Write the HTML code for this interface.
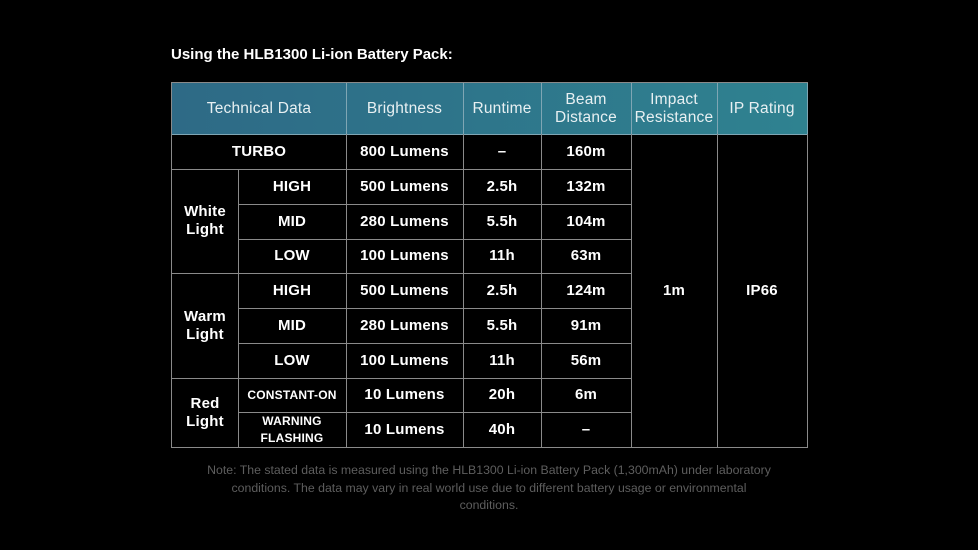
<!DOCTYPE html>
<html><head><meta charset="utf-8"><style>
body{margin:0;background:#000;width:978px;height:550px;overflow:hidden;font-family:"Liberation Sans",sans-serif;color:#fff;position:relative}
.c{position:absolute;box-sizing:border-box;border-right:1px solid #8a8a8a;border-bottom:1px solid #8a8a8a;display:flex;align-items:center;justify-content:center;text-align:center;font-size:15px;line-height:18px;font-weight:bold;letter-spacing:0.2px}
.h{background:transparent;font-weight:normal;font-size:15.5px;color:#e8f0f2;border-color:#7fa6b4}
.s{font-size:12px;line-height:17px}
#t{position:absolute;left:171px;top:82px;width:637px;height:366px;border-left:1px solid #8a8a8a;border-top:1px solid #8a8a8a;box-sizing:border-box}
#hb{position:absolute;left:172px;top:83px;width:635px;height:51px;background:linear-gradient(90deg,#2e6a86,#2f8290)}
</style></head><body>
<div style="position:absolute;left:171px;top:46px;font-size:15px;font-weight:bold">Using the HLB1300 Li-ion Battery Pack:</div>
<div id="t"></div>
<div id="hb"></div>
<div id="cells"></div>
<div style="position:absolute;left:203px;width:572px;top:462px;text-align:center;color:#5e5e5e;font-size:12.3px;line-height:17.5px">Note: The stated data is measured using the HLB1300 Li-ion Battery Pack (1,300mAh) under laboratory conditions. The data may vary in real world use due to different battery usage or environmental conditions.</div>
<script>
var X=[171,238,346,463,541,631,717,807],Y=[82,134,169,204,239,273,308,343,378,412,447];
var out='';
function cell(c0,c1,r0,r1,txt,cls){var l=X[c0]+(c0==0?1:0),t=Y[r0]+(r0==0?1:0);
out+='<div class="c '+(cls||'')+'" style="left:'+l+'px;top:'+t+'px;width:'+(X[c1]-l+1)+'px;height:'+(Y[r1]-t+1)+'px">'+txt+'</div>';}
cell(0,2,0,1,'Technical Data','h');cell(2,3,0,1,'Brightness','h');cell(3,4,0,1,'Runtime','h');
cell(4,5,0,1,'Beam<br>Distance','h');cell(5,6,0,1,'Impact<br>Resistance','h');cell(6,7,0,1,'IP Rating','h');
cell(0,2,1,2,'TURBO');
cell(0,1,2,5,'White<br>Light');cell(0,1,5,8,'Warm<br>Light');cell(0,1,8,10,'Red<br>Light');
var rows=[['800 Lumens','–','160m'],['500 Lumens','2.5h','132m'],['280 Lumens','5.5h','104m'],['100 Lumens','11h','63m'],['500 Lumens','2.5h','124m'],['280 Lumens','5.5h','91m'],['100 Lumens','11h','56m'],['10 Lumens','20h','6m'],['10 Lumens','40h','–']];
var m=['','HIGH','MID','LOW','HIGH','MID','LOW','CONSTANT-ON','WARNING<br>FLASHING'];
for(var i=0;i<9;i++){var r=i+1;if(i>0)cell(1,2,r,r+1,m[i],i>=7?'s':'');
cell(2,3,r,r+1,rows[i][0]);cell(3,4,r,r+1,rows[i][1]);cell(4,5,r,r+1,rows[i][2]);}
cell(5,6,1,10,'1m');cell(6,7,1,10,'IP66');
document.getElementById('cells').innerHTML=out;
</script>
</body></html>
